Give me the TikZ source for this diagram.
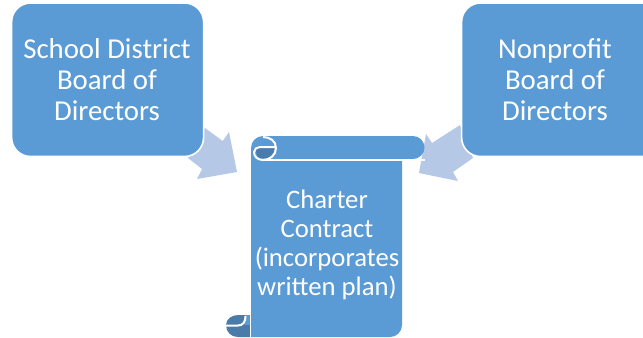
\documentclass[tikz,border=0pt]{standalone}
\usepackage{fontspec}
\setmainfont{Carlito}
\definecolor{boxblue}{HTML}{5B9BD5}
\definecolor{arrowblue}{HTML}{B5C9E6}
\definecolor{curlblue}{HTML}{497CAB}
\tikzset{
  boxtext/.style={text=white,align=center,font=\fontsize{28.8bp}{31bp}\selectfont},
  scrolltext/.style={text=white,align=center,font=\fontsize{26.7bp}{29bp}\selectfont},
  bigbox/.style={fill=boxblue,draw=white,line width=1.6bp,rounded corners=19bp},
  bigarrow/.style={fill=arrowblue,draw=none},
  whiteline/.style={draw=white,line width=2bp}
}
\begin{document}
\begin{tikzpicture}[x=1bp,y=-1bp]
\useasboundingbox (0,0) rectangle (643,337);
\clip (0,0) rectangle (643,337);
% arrows
\fill[bigarrow] (237,172) -- (229,132) -- (222.7,141) -- (205,128) -- (188,158) -- (202,169) -- (197,179) -- cycle;
\fill[bigarrow] (419,173) -- (426,134) -- (432,143) -- (460,125) -- (473,158) -- (453,172) -- (458,181) -- cycle;
% boxes
\node[bigbox,minimum width=192bp,minimum height=153.5bp,inner sep=0pt,anchor=north west] (sd) at (10.8,2.2) {};
\node[boxtext] (sdt) at (107,79.5) {School District\\Board of\\Directors};
\node[bigbox,minimum width=200bp,minimum height=153.5bp,inner sep=0pt,anchor=north west] (np) at (460.8,2.2) {};
\node[boxtext] (npt) at (555,79.5) {Nonprofit\\Board of\\Directors};
% scroll: bottom curl
\fill[curlblue] (226,325) .. controls (226,319) and (232,315) .. (238,315) -- (245,315) -- (245,325) -- cycle;
\fill[curlblue] (226,325) -- (251,325) -- (251,337) -- (238,337) .. controls (231,337) and (226,332) .. (226,325) -- cycle;
\fill[boxblue] (245,315) rectangle (252,325);
\draw[whiteline] (226,325.5) -- (238,325.5) .. controls (243,325.5) and (245.5,322) .. (245.5,316);
% scroll body
\fill[boxblue] (251,150) -- (402,150) -- (402,325) arc[start angle=0,end angle=90,radius=12] -- (251,337) -- cycle;
\draw[white,line width=1.4bp] (250.5,160) -- (250.5,337);
% roll
\fill[boxblue] (251,148) arc[start angle=180,end angle=270,radius=12] -- (413,136) arc[start angle=-90,end angle=90,radius=11.5] -- (251,159) -- cycle;
\draw[white,line width=1.6bp] (263,160) -- (425,160);
% top curl
\fill[curlblue] (256,150) .. controls (256,148.5) and (258,148) .. (260,148) -- (274.5,148) .. controls (274,154) and (270,158.5) .. (263,158.5) .. controls (258,158.5) and (256,155) .. (256,150) -- cycle;
\draw[whiteline] (263,137) .. controls (270,137) and (276,141) .. (276,148) .. controls (276,155) and (270,160) .. (263,160) .. controls (257,160) and (254,156) .. (254,152) .. controls (254,149) and (257,147) .. (260,147) -- (275,147);
\node[scrolltext] (ct) at (327,245) {Charter\\Contract\\(incorporates\\written plan)};
\end{tikzpicture}
\end{document}
